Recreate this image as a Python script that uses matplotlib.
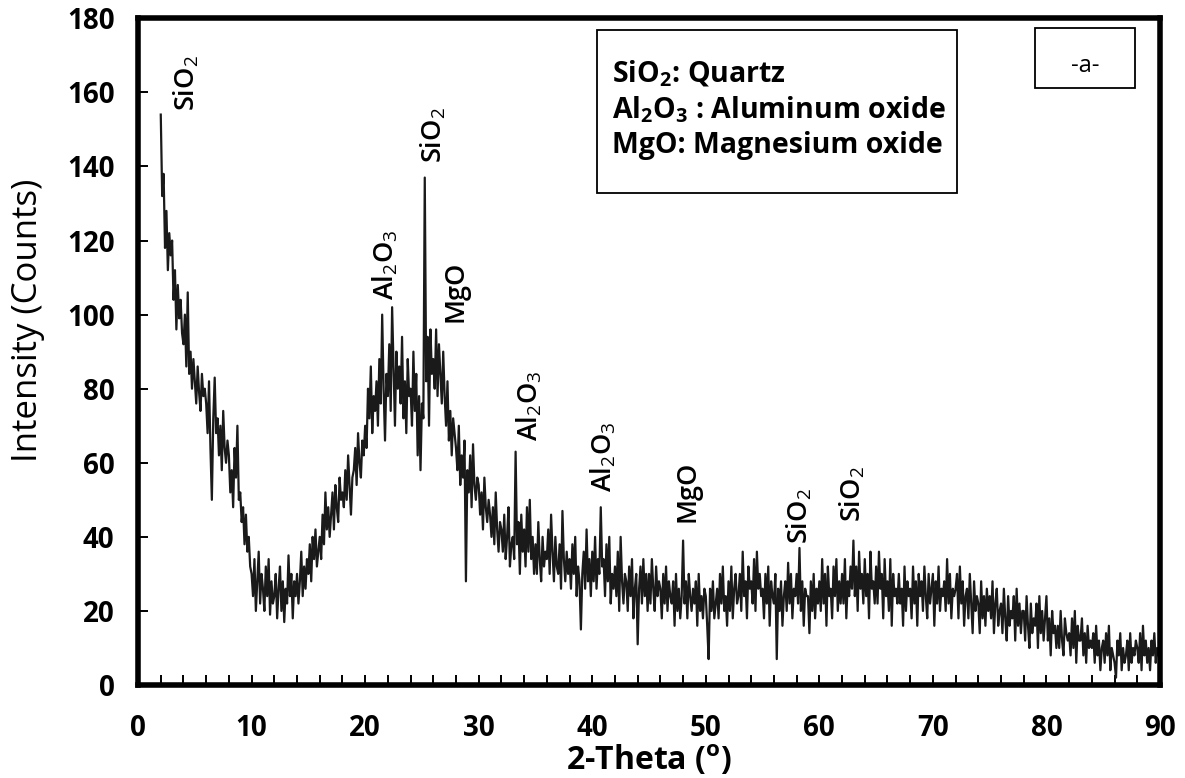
import matplotlib
matplotlib.use("Agg")
import matplotlib.pyplot as plt
import numpy as np
from matplotlib.patches import Rectangle

plt.rcParams['font.family'] = ['Open Sans', 'DejaVu Sans']
plt.rcParams['mathtext.fontset'] = 'custom'
plt.rcParams['mathtext.rm'] = 'Open Sans'
plt.rcParams['mathtext.it'] = 'Open Sans'
plt.rcParams['mathtext.bf'] = 'Open Sans:bold'

# XRD scan: 2-theta starts at 2.0 deg, step 0.125 deg (8 readings per degree)
theta_start = 2.0
theta_step = 0.125
intensity = [
    154, 132, 138, 118, 128, 112, 122, 116,   # 2
    120, 104, 112, 96, 108, 99, 104, 95,      # 3
    92, 100, 86, 106, 84, 90, 80, 88,         # 4
    82, 76, 86, 79, 74, 84, 78, 80,           # 5
    76, 68, 82, 64, 50, 72, 83, 68,           # 6
    72, 62, 70, 58, 74, 64, 60, 66,           # 7
    62, 52, 58, 48, 64, 56, 70, 50,           # 8
    52, 44, 48, 38, 46, 36, 40, 32,           # 9
    30, 24, 34, 20, 28, 36, 22, 30,           # 10
    26, 20, 32, 24, 34, 19, 28, 22,           # 11
    24, 30, 18, 26, 32, 20, 28, 17,           # 12
    26, 22, 35, 24, 30, 18, 28, 24,           # 13
    30, 22, 28, 36, 24, 32, 26, 34,           # 14
    30, 38, 28, 40, 34, 42, 32, 36,           # 15
    40, 34, 46, 38, 52, 42, 48, 40,           # 16
    46, 52, 42, 54, 48, 44, 56, 50,           # 17
    52, 48, 58, 50, 62, 54, 46, 56,           # 18
    58, 64, 54, 68, 60, 56, 66, 62,           # 19
    70, 64, 80, 72, 86, 68, 78, 74,           # 20
    82, 70, 88, 76, 100, 80, 66, 84,          # 21
    78, 92, 74, 102, 86, 70, 90, 80,          # 22
    86, 76, 94, 72, 82, 68, 88, 78,           # 23
    80, 70, 90, 74, 84, 62, 78, 58,           # 24
    76, 72, 137, 82, 94, 70, 96, 84,          # 25
    88, 80, 96, 78, 92, 84, 76, 90,           # 26
    78, 70, 82, 66, 74, 62, 72, 68,           # 27
    64, 58, 70, 54, 62, 56, 66, 28,           # 28
    58, 52, 62, 48, 65, 54, 50, 56,           # 29
    54, 46, 52, 42, 56, 48, 44, 50,           # 30
    46, 40, 48, 38, 52, 42, 36, 44,           # 31
    42, 36, 46, 34, 40, 48, 32, 38,           # 32
    40, 34, 63, 38, 44, 30, 46, 36,           # 33
    42, 32, 48, 36, 50, 34, 40, 30,           # 34
    38, 30, 44, 34, 28, 40, 32, 36,           # 35
    34, 42, 30, 46, 36, 28, 40, 32,           # 36
    30, 38, 26, 47, 34, 28, 36, 30,           # 37
    34, 26, 38, 30, 40, 24, 32, 28,           # 38
    15, 30, 36, 26, 42, 28, 34, 24,           # 39
    36, 28, 40, 26, 34, 30, 48, 32,           # 40
    34, 24, 38, 28, 40, 22, 30, 26,           # 41
    32, 24, 36, 20, 40, 28, 22, 30,           # 42
    28, 20, 32, 24, 34, 18, 26, 30,           # 43
    11, 26, 32, 22, 34, 24, 30, 20,           # 44
    30, 22, 34, 26, 20, 32, 24, 28,           # 45
    26, 18, 30, 22, 32, 20, 28, 24,           # 46
    22, 28, 16, 30, 20, 26, 18, 24,           # 47
    39, 22, 28, 18, 30, 24, 20, 26,           # 48
    22, 28, 16, 30, 20, 24, 18, 26,           # 49
    24, 16, 7, 26, 20, 28, 18, 22,            # 50
    26, 18, 30, 22, 32, 20, 24, 16,           # 51
    28, 20, 32, 18, 26, 30, 22, 24,           # 52
    30, 20, 36, 24, 28, 18, 32, 26,           # 53
    28, 22, 34, 20, 36, 26, 30, 24,           # 54
    26, 18, 30, 22, 32, 16, 28, 24,           # 55
    22, 30, 7, 26, 20, 28, 16, 24,            # 56
    28, 20, 33, 22, 30, 18, 26, 24,           # 57
    30, 22, 37, 20, 28, 16, 26, 24,           # 58
    24, 14, 28, 20, 30, 18, 26, 22,           # 59
    28, 20, 34, 22, 30, 16, 32, 24,           # 60
    26, 18, 32, 24, 34, 20, 28, 22,           # 61
    30, 22, 34, 18, 28, 24, 32, 26,           # 62
    39, 24, 32, 20, 36, 26, 30, 22,           # 63
    34, 24, 30, 18, 36, 26, 28, 22,           # 64
    32, 22, 36, 26, 30, 18, 34, 24,           # 65
    28, 20, 34, 16, 30, 24, 26, 22,           # 66
    30, 22, 26, 16, 32, 20, 28, 24,           # 67
    26, 18, 32, 22, 28, 16, 30, 24,           # 68
    28, 20, 32, 24, 18, 30, 22, 26,           # 69
    30, 16, 28, 22, 32, 20, 26, 24,           # 70
    28, 20, 34, 22, 30, 18, 26, 24,           # 71
    26, 30, 18, 32, 22, 28, 16, 24,           # 72
    26, 18, 30, 22, 14, 28, 20, 24,           # 73
    22, 14, 28, 18, 24, 16, 26, 20,           # 74
    24, 18, 28, 14, 22, 26, 16, 20,           # 75
    22, 14, 26, 18, 12, 24, 16, 20,           # 76
    18, 24, 12, 26, 16, 22, 14, 20,           # 77
    20, 12, 24, 16, 10, 22, 14, 18,           # 78
    16, 22, 10, 24, 14, 20, 12, 18,           # 79
    24, 12, 18, 8, 20, 14, 16, 10,            # 80
    16, 10, 20, 12, 8, 18, 14, 12,            # 81
    14, 8, 18, 10, 20, 6, 16, 12,             # 82
    12, 18, 8, 14, 6, 16, 10, 12,             # 83
    10, 14, 6, 16, 8, 12, 4, 10,              # 84
    12, 6, 14, 8, 16, 4, 10, 8,               # 85
    6, 2, 12, 8, 14, 4, 10, 6,                # 86
    8, 12, 4, 14, 6, 10, 8, 12,               # 87
    10, 6, 14, 4, 16, 8, 12, 6,               # 88
    10, 4, 12, 8, 14, 6, 10, 8,               # 89
]

# peak labels: text, 2-theta position, intensity where the label starts
peak_names = ['SiO$_2$', 'Al$_2$O$_3$', 'SiO$_2$', 'MgO', 'Al$_2$O$_3$',
              'Al$_2$O$_3$', 'MgO', 'SiO$_2$', 'SiO$_2$']
peak_theta = [4.3, 21.8, 26.0, 28.0, 34.5, 41.0, 48.4, 58.3, 62.9]
peak_label_y = [155, 104, 141, 98, 66, 52, 44, 38, 44]

legend_lines = ['SiO$_\\mathbf{2}$: Quartz',
                'Al$_\\mathbf{2}$O$_\\mathbf{3}$ : Aluminum oxide',
                'MgO: Magnesium oxide']

x = theta_start + theta_step * np.arange(len(intensity))

fig = plt.figure(figsize=(11.85, 7.78), dpi=100)
ax = fig.add_axes([0.1165, 0.1195, 0.8624, 0.857])

ax.plot(x, intensity, color='#1a1a1a', lw=1.6)

ax.set_xlim(0, 90)
ax.set_ylim(0, 180)
ax.set_xticks(np.arange(0, 91, 10))
ax.set_xticks(np.arange(0, 91, 2), minor=True)
ax.set_yticks(np.arange(0, 181, 20))
ax.tick_params(axis='both', which='both', direction='in', length=7, width=1.4,
               labelsize=20)
ax.tick_params(axis='x', pad=21)
ax.tick_params(axis='y', pad=17)
for lab in ax.get_xticklabels() + ax.get_yticklabels():
    lab.set_fontweight('bold')
for sp in ax.spines.values():
    sp.set_linewidth(4)

fig.text(649 / 1185, 1 - 761 / 778, '2-Theta ($^\\mathbf{o}$)', fontsize=23,
         fontweight='bold', ha='center', va='center')
fig.text(28 / 1185, 1 - 320 / 778, 'Intensity (Counts)', fontsize=25,
         rotation=90, ha='center', va='center')

for name, t, yv in zip(peak_names, peak_theta, peak_label_y):
    ax.text(t, yv, name, rotation=90, ha='center', va='bottom', fontsize=19.5,
            fontweight='semibold')

# legend box
fig.patches.append(Rectangle((597 / 1185, 1 - 193 / 778), 360 / 1185, 163 / 778,
                             transform=fig.transFigure, fill=False, lw=1.3,
                             edgecolor='black'))
for i, line in enumerate(legend_lines):
    fig.text(612 / 1185, 1 - (74 + 36 * i) / 778, line, fontsize=20.5,
             fontweight='bold', va='center', ha='left')

# panel tag
fig.patches.append(Rectangle((1035 / 1185, 1 - 88 / 778), 100 / 1185, 60 / 778,
                             transform=fig.transFigure, fill=False, lw=1.3,
                             edgecolor='black'))
fig.text(1085 / 1185, 1 - 66 / 778, '-a-', fontsize=17, ha='center', va='center')

fig.savefig('out.png', dpi=100)
